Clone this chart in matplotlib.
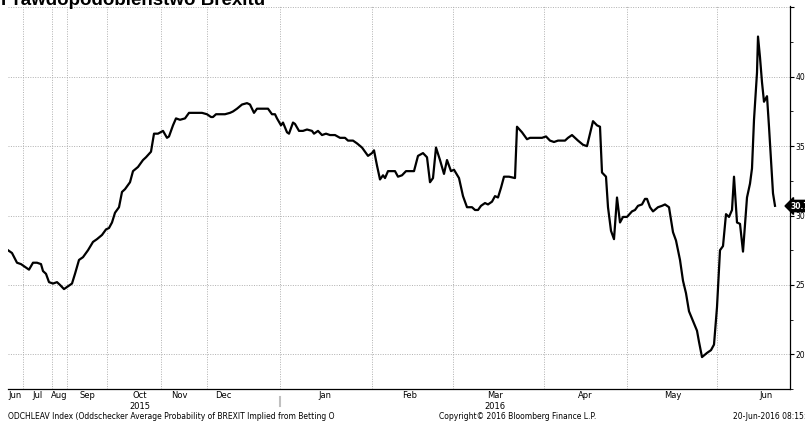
import matplotlib.pyplot as plt
from matplotlib.ticker import MultipleLocator

# Oddschecker implied probability of Brexit (%)
obs = [8, 12, 17, 21, 25, 29, 33, 37, 41, 43, 46, 49, 53, 57, 60, 64, 68, 72, 75, 79,
       83, 88, 93, 97, 102, 106, 109, 112, 115, 119, 122, 125, 130, 133, 138, 143, 146, 151, 154, 158,
       163, 167, 169, 173, 176, 180, 185, 189, 195, 202, 207, 211, 213, 216, 220, 225, 230, 233, 237, 242,
       247, 250, 254, 257, 263, 268, 272, 275, 277, 281, 283, 287, 289, 293, 295, 299, 303, 307, 312, 314,
       318, 322, 326, 330, 335, 340, 345, 348, 353, 357, 362, 365, 368, 372, 374, 377, 380, 383, 385, 388,
       392, 395, 398, 402, 406, 410, 414, 418, 423, 427, 430, 433, 436, 440, 444, 447, 451, 454, 459, 463,
       467, 472, 475, 478, 481, 485, 488, 492, 495, 498, 501, 504, 509, 515, 517, 522, 527, 530, 535, 542,
       546, 550, 554, 558, 565, 568, 572, 575, 578, 583, 587, 590, 593, 597, 600, 602, 606, 608, 611, 614,
       617, 620, 623, 627, 632, 635, 638, 642, 645, 647, 650, 653, 658, 662, 665, 669, 673, 676, 680, 683,
       686, 689, 693, 697, 699, 702, 707, 711, 714, 717, 720, 723, 726, 729, 732, 734, 737, 740, 743, 747,
       750, 752, 754, 757, 758, 760, 762, 764, 767, 769, 773, 775]
prob = [27.5, 27.3, 26.6, 26.5, 26.3, 26.1, 26.6, 26.6, 26.5, 26.0, 25.8, 25.2, 25.1, 25.2, 25.0, 24.7, 24.9, 25.1, 25.8, 26.8,
        27.0, 27.5, 28.1, 28.3, 28.6, 29.0, 29.1, 29.5, 30.2, 30.6, 31.7, 31.9, 32.4, 33.2, 33.5, 34.0, 34.2, 34.6, 35.9, 35.9,
        36.1, 35.6, 35.7, 36.5, 37.0, 36.9, 37.0, 37.4, 37.4, 37.4, 37.3, 37.1, 37.1, 37.3, 37.3, 37.3, 37.4, 37.5, 37.7, 38.0,
        38.1, 38.0, 37.4, 37.7, 37.7, 37.7, 37.3, 37.3, 37.0, 36.5, 36.7, 36.0, 35.9, 36.7, 36.6, 36.1, 36.1, 36.2, 36.1, 35.9,
        36.1, 35.8, 35.9, 35.8, 35.8, 35.6, 35.6, 35.4, 35.4, 35.2, 34.9, 34.6, 34.3, 34.5, 34.7, 33.6, 32.6, 32.9, 32.7, 33.2,
        33.2, 33.2, 32.8, 32.9, 33.2, 33.2, 33.2, 34.3, 34.5, 34.2, 32.4, 32.7, 34.9, 34.0, 33.0, 34.0, 33.2, 33.3, 32.7, 31.4,
        30.6, 30.6, 30.4, 30.4, 30.7, 30.9, 30.8, 31.0, 31.4, 31.3, 32.0, 32.8, 32.8, 32.7, 36.4, 36.0, 35.5, 35.6, 35.6, 35.6,
        35.7, 35.4, 35.3, 35.4, 35.4, 35.6, 35.8, 35.6, 35.4, 35.1, 35.0, 35.9, 36.8, 36.5, 36.4, 33.1, 32.8, 30.6, 28.9, 28.3,
        31.3, 29.5, 29.9, 29.9, 30.3, 30.4, 30.7, 30.8, 31.2, 31.2, 30.6, 30.3, 30.6, 30.7, 30.8, 30.6, 28.8, 28.2, 26.8, 25.3,
        24.4, 23.1, 22.4, 21.7, 20.9, 19.8, 20.1, 20.3, 20.7, 23.4, 27.5, 27.8, 30.1, 29.9, 30.4, 32.8, 29.5, 29.4, 27.4, 31.3,
        32.3, 33.4, 36.9, 40.3, 42.9, 41.4, 39.6, 38.2, 38.6, 36.4, 31.6, 30.7]

# month boundaries and label positions on the observation axis
month_starts = [23, 52, 67, 107, 161, 207, 280, 372, 453, 544, 627, 717]
month_pos = [15, 37, 59, 87, 140, 179, 223, 325, 410, 495, 585, 673, 766]
month_names = ["Jun", "Jul", "Aug", "Sep", "Oct", "Nov", "Dec", "Jan", "Feb", "Mar", "Apr", "May", "Jun"]
years = ["2015", "2016"]
year_pos = [140, 495]
year_split = 280
last_label = "30.72"

narrow = ["Liberation Sans Narrow", "DejaVu Sans"]

fig = plt.figure(figsize=(8.05, 4.23), dpi=100)
ax = fig.add_axes([8 / 805, 1 - 389 / 423, 782 / 805, 383 / 423])

ax.plot(obs, prob, color="black", lw=1.6, solid_joinstyle="round", zorder=3)

ax.set_xlim(8, 790)
ax.set_ylim(17.5, 45.1)

# grid
for x in month_starts:
    ax.axvline(x, color="#b0b0b0", lw=0.7, ls=(0, (1, 1.5)), zorder=1)
for y in [20, 25, 30, 35, 40, 45]:
    ax.axhline(y, color="#b0b0b0", lw=0.7, ls=(0, (1, 1.5)), zorder=1)

for s in ["left", "top"]:
    ax.spines[s].set_visible(False)
ax.spines["right"].set_linewidth(0.9)
ax.spines["bottom"].set_linewidth(0.9)

# right-hand value axis
ax.yaxis.tick_right()
ax.set_yticks([20, 25, 30, 35, 40, 45])
ax.set_yticklabels(["20", "25", "30", "35", "40", ""])
ax.yaxis.set_minor_locator(MultipleLocator(2.5))
ax.tick_params(axis="y", which="major", direction="out", length=3, width=0.8, pad=1, labelsize=5.5)
ax.tick_params(axis="y", which="minor", direction="out", length=2, width=0.6)
for lab in ax.get_yticklabels():
    lab.set_family(narrow)

# month / year labels
ax.set_xticks([])
for name, x in zip(month_names, month_pos):
    ax.text(x, -0.006, name, transform=ax.get_xaxis_transform(), ha="center", va="top",
            fontsize=6, family=narrow)
for name, x in zip(years, year_pos):
    ax.text(x, -0.033, name, transform=ax.get_xaxis_transform(), ha="center", va="top",
            fontsize=6, family=narrow)
ax.plot([year_split, year_split], [-0.022, -0.045], transform=ax.get_xaxis_transform(),
        color="#c0c0c0", lw=1.5, clip_on=False)

# last value tag
fig.text(791 / 805, 1 - 206 / 423, last_label, ha="left", va="center", fontsize=5.5, color="white",
         family=narrow, fontweight="bold",
         bbox=dict(boxstyle="larrow,pad=0.15", fc="black", ec="black"))

# title and footer
fig.text(0.001, 1 - 5 / 423, "Prawdopodobieństwo Brexitu", ha="left", va="baseline",
         fontsize=13.5, fontweight="bold", family="Liberation Sans")
fig.text(8 / 805, 2 / 423, "ODCHLEAV Index (Oddschecker Average Probability of BREXIT Implied from Betting O",
         ha="left", va="bottom", fontsize=5.5, family=narrow)
fig.text(518 / 805, 2 / 423, "Copyright\u00a9 2016 Bloomberg Finance L.P.",
         ha="center", va="bottom", fontsize=5.5, family=narrow)
fig.text(733 / 805, 2 / 423, "20-Jun-2016 08:15:13", ha="left", va="bottom", fontsize=5.5, family=narrow)

fig.savefig("out.png", dpi=100)
